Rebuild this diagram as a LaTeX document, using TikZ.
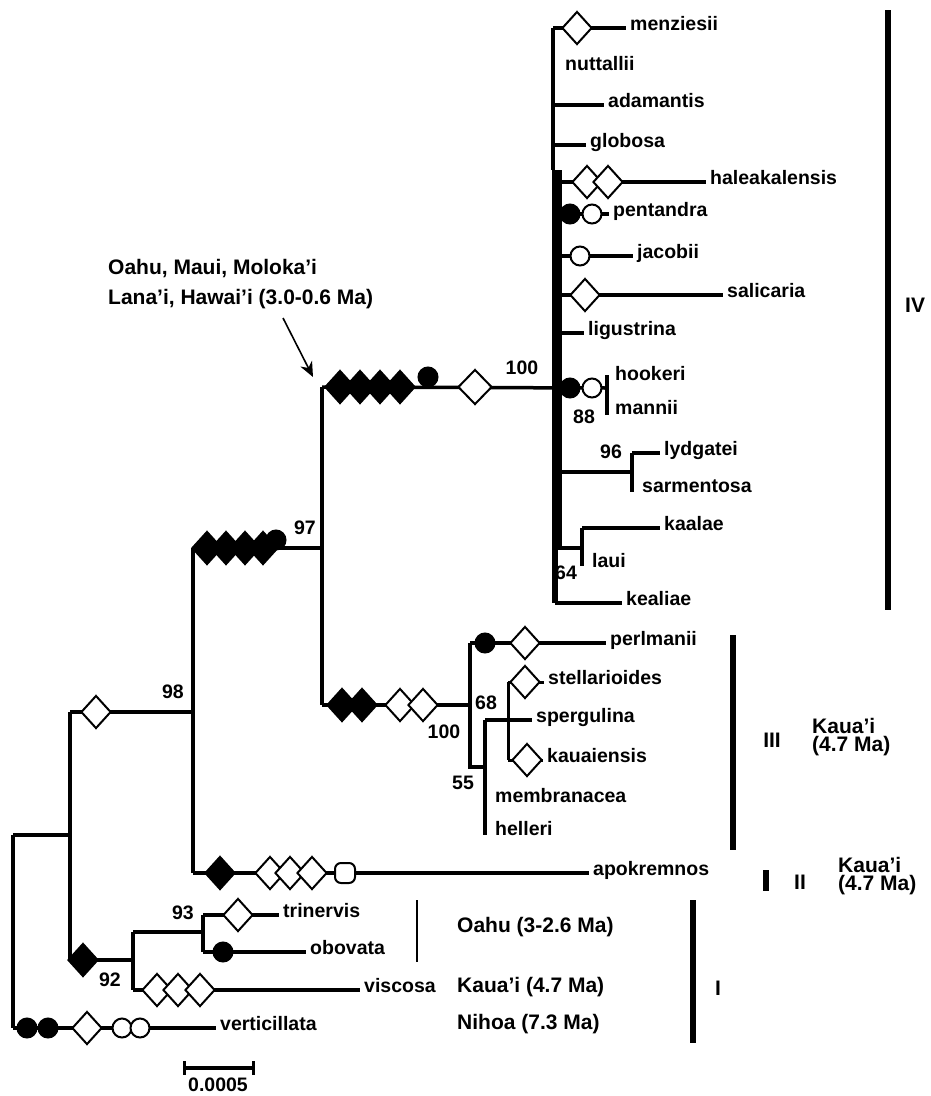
\documentclass[tikz,border=0pt]{standalone}
\usepackage{fontspec}
\setmainfont{Liberation Sans}
\usetikzlibrary{shapes.geometric,arrows.meta}
\newcommand\taxfont{\fontsize{19.5}{21}\selectfont\bfseries}
\newcommand\geofont{\fontsize{21}{22}\selectfont\bfseries}
\newcommand\geotwofont{\fontsize{21}{18.5}\selectfont\bfseries}
\begin{document}
\begin{tikzpicture}[x=1pt,y=-1pt,
 br/.style={line width=3.5pt, line join=miter},
 od/.style={shape=diamond, draw, fill=white, line width=2pt, inner sep=0pt, minimum width=30pt, minimum height=33pt},
 fd/.style={od, fill=black},
 oc/.style={circle, draw, fill=white, line width=2pt, inner sep=0pt, minimum size=19pt},
 fc/.style={oc, fill=black},
 lab/.style={anchor=mid west, inner sep=4pt, font=\taxfont},
 num/.style={inner sep=0pt, font=\taxfont},
 geo/.style={anchor=mid west, inner sep=0pt, font=\geofont},
 geotwo/.style={anchor=west, inner sep=0pt, font=\geotwofont, align=left},
 cname/.style={inner sep=0pt, font=\geofont},
 cbar/.style={line width=6pt}]
\useasboundingbox (0,0) rectangle (931,1096);

% ---------------- coordinates of internal nodes
\coordinate (ivtop) at (553,28);
\coordinate (ivmid) at (553,170);
\coordinate (ivmid2) at (555,170);
\coordinate (ivbot) at (555,603);
\coordinate (ivin) at (560,170);
\coordinate (ivinb) at (560,548);
\coordinate (n100) at (553,387);
\coordinate (ivstem) at (322,387);
\coordinate (n97) at (322,548);
\coordinate (iiistem) at (322,705);
\coordinate (k97) at (193,548);
\coordinate (n98) at (193,712);
\coordinate (apo0) at (193,873);
\coordinate (n98l) at (70,712);
\coordinate (rootj) at (70,835);
\coordinate (n92) at (70,960);
\coordinate (root) at (13,835);
\coordinate (rootb) at (13,1028);
\coordinate (n92r) at (133,960);
\coordinate (n93l) at (133,932);
\coordinate (visc0) at (133,990);
\coordinate (n93) at (203,932);
\coordinate (trin0) at (203,915);
\coordinate (obov0) at (203,952);
\coordinate (n88) at (607,388);
\coordinate (n88t) at (607,375);
\coordinate (n88b) at (607,415);
\coordinate (n96) at (632,472);
\coordinate (n96t) at (632,453);
\coordinate (n96b) at (632,492);
\coordinate (n64) at (582,548);
\coordinate (n64t) at (582,528);
\coordinate (n64b) at (582,566);
\coordinate (n100b) at (470,705);
\coordinate (n100bt) at (470,643);
\coordinate (n55) at (470,767);
\coordinate (n55r) at (485,767);
\coordinate (n68t) at (485,720);
\coordinate (n68b) at (485,835);
\coordinate (stt) at (508,682);
\coordinate (stb) at (508,760);

% ---------------- taxon labels
\node[lab] (menziesii) at (626,28) {menziesii};
\node[lab] (nuttallii) at (561,68) {nuttallii};
\node[lab] (adamantis) at (604,105) {adamantis};
\node[lab] (globosa) at (586,145) {globosa};
\node[lab] (haleakalensis) at (706,182) {haleakalensis};
\node[lab] (pentandra) at (609,214) {pentandra};
\node[lab] (jacobii) at (633,256) {jacobii};
\node[lab] (salicaria) at (723,295) {salicaria};
\node[lab] (ligustrina) at (584,333) {ligustrina};
\node[lab] (hookeri) at (611,378) {hookeri};
\node[lab] (mannii) at (611,412) {mannii};
\node[lab] (lydgatei) at (660,453) {lydgatei};
\node[lab] (sarmentosa) at (638,490) {sarmentosa};
\node[lab] (kaalae) at (660,528) {kaalae};
\node[lab] (laui) at (588,565) {laui};
\node[lab] (kealiae) at (622,603) {kealiae};
\node[lab] (perlmanii) at (606,643) {perlmanii};
\node[lab] (stellarioides) at (544,682) {stellarioides};
\node[lab] (spergulina) at (532,720) {spergulina};
\node[lab] (kauaiensis) at (543,760) {kauaiensis};
\node[lab] (membranacea) at (491,800) {membranacea};
\node[lab] (helleri) at (491,833) {helleri};
\node[lab] (apokremnos) at (589,873) {apokremnos};
\node[lab] (trinervis) at (279,915) {trinervis};
\node[lab] (obovata) at (306,952) {obovata};
\node[lab] (viscosa) at (360,990) {viscosa};
\node[lab] (verticillata) at (216,1028) {verticillata};

% ---------------- branches
\draw[br] (ivtop) -- (ivmid);
\draw[br, line width=5.5pt] (ivmid2) -- (ivbot);
\draw[br] (ivin) -- (ivinb) -- (n64);
\draw[br] (ivtop) -- (menziesii.mid west);
\draw[br] (adamantis.mid west -| ivtop) -- (adamantis.mid west);
\draw[br] (globosa.mid west -| ivtop) -- (globosa.mid west);
\draw[br] (haleakalensis.mid west -| ivtop) -- (haleakalensis.mid west);
\draw[br] (pentandra.mid west -| ivtop) -- (pentandra.mid west);
\draw[br] (jacobii.mid west -| ivtop) -- (jacobii.mid west);
\draw[br] (salicaria.mid west -| ivtop) -- (salicaria.mid west);
\draw[br] (ligustrina.mid west -| ivtop) -- (ligustrina.mid west);
\draw[br] (ivbot) -- (kealiae.mid west);
\draw[br] (ivstem) -- (n88);
\draw[br] (n88t) -- (n88b);
\draw[br] (n96 -| ivin) -- (n96);
\draw[br] (n96t) -- (n96b);
\draw[br] (n96t) -- (lydgatei.mid west);
\draw[br] (n64t) -- (n64b);
\draw[br] (n64t) -- (kaalae.mid west);

\draw[br] (ivstem) -- (iiistem);
\draw[br] (k97) -- (n97);
\draw[br] (k97) -- (apo0);
\draw[br] (n98l) -- (n98);
\draw[br] (n98l) -- (n92);
\draw[br] (root) -- (rootj);
\draw[br] (root) -- (rootb);
\draw[br] (n92) -- (n92r);
\draw[br] (n93l) -- (visc0);
\draw[br] (n93l) -- (n93);
\draw[br] (trin0) -- (obov0);
\draw[br] (trin0) -- (trinervis.mid west);
\draw[br] (obov0) -- (obovata.mid west);
\draw[br] (visc0) -- (viscosa.mid west);
\draw[br] (rootb) -- (verticillata.mid west);
\draw[br] (apo0) -- (apokremnos.mid west);

\draw[br] (iiistem) -- (n100b);
\draw[br] (n100bt) -- (n55) -- (n55r);
\draw[br] (n100bt) -- (perlmanii.mid west);
\draw[br] (n68t) -- (n68b);
\draw[br] (n68t) -- (spergulina.mid west);
\draw[br, line width=3pt] (stt) -- (stb);
\draw[br, line width=3pt] (stt) -- (stellarioides.mid west);
\draw[br, line width=3pt] (stb) -- (kauaiensis.mid west);

% ---------------- character markers
\node[od] (m1) at (577,28) {};
\node[od] (m2) at (587,182) {};
\node[od] (m3) at (608,182) {};
\node[fc] (m4) at (570,214) {};
\node[oc] (m5) at (592,214) {};
\node[oc] (m6) at (580,256) {};
\node[od] (m7) at (585,295) {};
\node[fc] (m8) at (570,388) {};
\node[oc] (m9) at (592,388) {};
% clade IV stem
\node[fd] (s1) at (340,387) {};
\node[fd] (s2) at (360,387) {};
\node[fd] (s3) at (380,387) {};
\node[fd] (s4) at (400,387) {};
\node[fc] (s5) at (428,377) {};
\node[od, minimum width=34pt, minimum height=35pt] (s6) at (475,387) {};
% 97 stem
\node[fd] (t1) at (207,548) {};
\node[fd] (t2) at (226,548) {};
\node[fd] (t3) at (245,548) {};
\node[fd] (t4) at (263,548) {};
\node[fc] (t5) at (276,540) {};
% clade III
\node[fd] (u1) at (342,705) {};
\node[fd] (u2) at (362,705) {};
\node[od] (u3) at (400,705) {};
\node[od] (u4) at (423,705) {};
\node[fc] (u5) at (485,643) {};
\node[od] (u6) at (525,643) {};
\node[od] (u7) at (525,682) {};
\node[od] (u8) at (527,760) {};
% apokremnos
\node[fd] (a1) at (220,873) {};
\node[od] (a2) at (270,873) {};
\node[od] (a3) at (290,873) {};
\node[od] (a4) at (312,873) {};
\node[oc, rounded corners=6pt, shape=rectangle, minimum width=20pt, minimum height=20pt] (a5) at (345,873) {};
% 98 stem
\node[od] (b1) at (96,712) {};
% clade I
\node[fd] (c1) at (83,960) {};
\node[od] (c2) at (238,915) {};
\node[fc] (c3) at (223,952) {};
\node[od] (c4) at (157,990) {};
\node[od] (c5) at (178,990) {};
\node[od] (c6) at (200,990) {};
\node[fc] (d1) at (27,1028) {};
\node[fc] (d2) at (48,1028) {};
\node[od] (d3) at (87,1028) {};
\node[oc] (d4) at (122,1028) {};
\node[oc] (d5) at (140,1028) {};

% ---------------- support values
\node[num] (v100a) at (522,368) {100};
\node[num] (v88) at (584,417) {88};
\node[num] (v96) at (611,452) {96};
\node[num] (v64) at (566,573) {64};
\node[num] (v97) at (305,528) {97};
\node[num] (v98) at (173,692) {98};
\node[num] (v100b) at (444,732) {100};
\node[num] (v68) at (486,703) {68};
\node[num] (v55) at (463,783) {55};
\node[num] (v93) at (183,913) {93};
\node[num] (v92) at (110,980) {92};

% ---------------- annotation
\node[geo] (g1) at (108,272) {Oahu, Maui, Moloka'i};
\node[geo] (g2) at (108,302) {Lana'i, Hawai'i (3.0-0.6 Ma)};
\coordinate (arrs) at (283,318);
\draw[line width=1.6pt, -{Stealth[length=15pt,width=13pt]}] (arrs) -- ([xshift=-9pt,yshift=10pt]ivstem);

% ---------------- clade bars and names
\coordinate (b4t) at (888,10); \coordinate (b4b) at (888,610);
\draw[cbar] (b4t) -- (b4b);
\node[cname, anchor=west] (cIV) at (905,305) {IV};
\coordinate (b3t) at (733,635); \coordinate (b3b) at (733,850);
\draw[cbar] (b3t) -- (b3b);
\node[cname] (cIII) at (772,740) {III};
\node[geotwo] (k3) at (812,737) {Kaua'i\\(4.7 Ma)};
\coordinate (b2t) at (766,870); \coordinate (b2b) at (766,891);
\draw[cbar] (b2t) -- (b2b);
\node[cname] (cII) at (800,882) {II};
\node[geotwo] (k2) at (838,876) {Kaua'i\\(4.7 Ma)};
\coordinate (b1t) at (693,900); \coordinate (b1b) at (693,1043);
\draw[cbar] (b1t) -- (b1b);
\node[cname] (cI) at (718,988) {I};
\coordinate (bot) at (417,900); \coordinate (bob) at (417,962);
\draw[line width=2pt] (bot) -- (bob);
\node[geo] (gO) at (457,930) {Oahu (3-2.6 Ma)};
\node[geo] (gK) at (457,990) {Kaua'i (4.7 Ma)};
\node[geo] (gN) at (457,1027) {Nihoa (7.3 Ma)};

% ---------------- scale bar
\coordinate (sbl) at (184,1068); \coordinate (sbr) at (253,1068);
\draw[line width=3.5pt] (sbl) -- (sbr);
\draw[line width=3pt] ([yshift=7pt]sbl) -- ([yshift=-7pt]sbl);
\draw[line width=3pt] ([yshift=7pt]sbr) -- ([yshift=-7pt]sbr);
\node[num] (sblab) at (218,1085) {0.0005};
\end{tikzpicture}
\end{document}
